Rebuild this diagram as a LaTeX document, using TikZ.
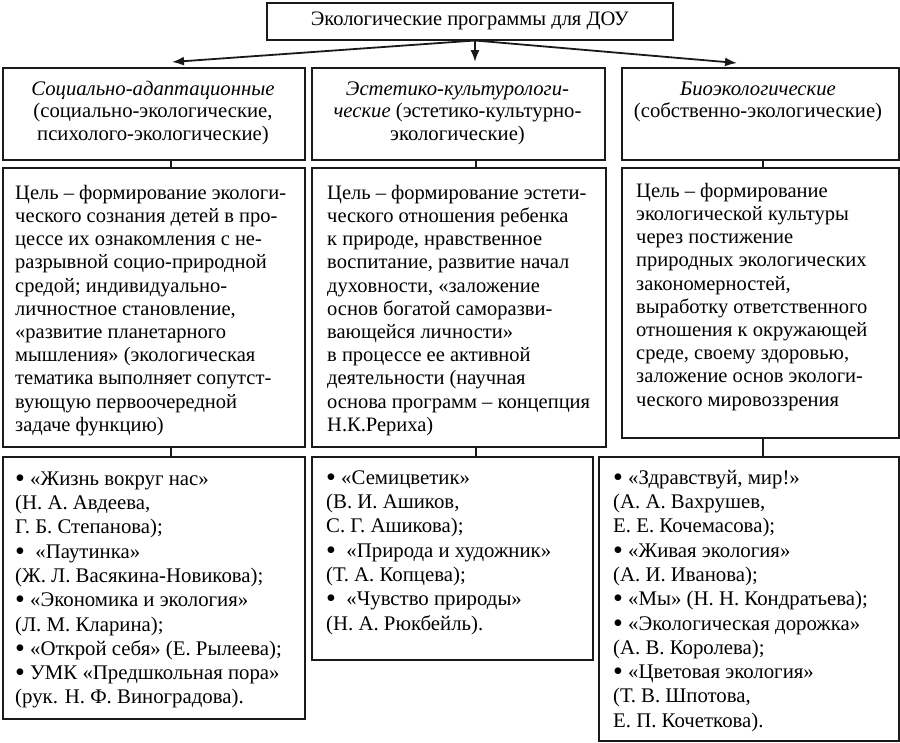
\documentclass[tikz,border=0pt]{standalone}
\usepackage{fontspec}
\setmainfont{Liberation Serif}
\usetikzlibrary{arrows.meta}
\definecolor{linec}{HTML}{1A1A1A}
\newcommand\mybul{\raisebox{-0.1em}{\scalebox{1.35}{•}}}
\begin{document}
\begin{tikzpicture}[x=1pt,y=-1pt,
  box/.style={draw=linec, line width=1.5pt, inner sep=0pt, anchor=north west},
  txtA/.style={inner sep=0pt, anchor=north west, align=left, font=\fontsize{20.5}{23.2}\selectfont},
  txtB/.style={inner sep=0pt, anchor=north west, align=left, font=\fontsize{20.8}{24.3}\selectfont},
  txtH/.style={inner sep=0pt, anchor=north, align=center, font=\fontsize{20.7}{22.5}\selectfont},
  arr/.style={line width=1.8pt, draw=linec, -{Latex[length=12pt,width=9pt]}},
  conn/.style={line width=1.2pt, draw=linec}]
\useasboundingbox (0,0) rectangle (900,742);

% boxes
\node[box, minimum width=406, minimum height=37, font=\fontsize{20.5}{23}\selectfont] (top) at (266,2) {Экологические программы для ДОУ};

\node[box, minimum width=302, minimum height=92] (L2) at (2,67) {};
\node[box, minimum width=293, minimum height=92] (M2) at (311,67) {};
\node[box, minimum width=277, minimum height=92] (R2) at (621,67) {};

\node[box, minimum width=302, minimum height=279] (L3) at (2,167) {};
\node[box, minimum width=294, minimum height=279] (M3) at (311,167) {};
\node[box, minimum width=277, minimum height=270] (R3) at (621,167) {};

\node[box, minimum width=302, minimum height=262] (L4) at (2,456) {};
\node[box, minimum width=281, minimum height=203] (M4) at (311,456) {};
\node[box, minimum width=300, minimum height=284] (R4) at (598,456) {};

% texts row 2
\node[txtH] (tL2) at (153,79.25) {\strut\textit{Социально-адаптационные}\\(социально-экологические,\\психолого-экологические)};
\node[txtH] (tM2) at (457.5,79.25) {\strut\textit{Эстетико-культурологи-}\\\textit{ческие} (эстетико-культурно-\\экологические)};
\node[txtH] (tR2) at (758,79.25) {\strut\textit{Биоэкологические}\\(собственно-экологические)};

% texts row 3
\node[txtA] (tL3) at (15,182.76) {\strut Цель – формирование экологи-\\ческого сознания детей в про-\\цессе их ознакомления с не-\\разрывной социо-природной\\средой; индивидуально-\\личностное становление,\\«развитие планетарного\\мышления» (экологическая\\тематика выполняет сопутст-\\вующую первоочередной\\задаче функцию)};
\node[txtA] (tM3) at (327,182.76) {\strut Цель – формирование эстети-\\ческого отношения ребенка\\к природе, нравственное\\воспитание, развитие начал\\духовности, «заложение\\основ богатой саморазви-\\вающейся личности»\\в процессе ее активной\\деятельности (научная\\основа программ – концепция\\Н.К.Рериха)};
\node[txtA] (tR3) at (636,180.76) {\strut Цель – формирование\\экологической культуры\\через постижение\\природных экологических\\закономерностей,\\выработку ответственного\\отношения к окружающей\\среде, своему здоровью,\\заложение основ экологи-\\ческого мировоззрения};

% texts row 4
\node[txtB] (tL4) at (15,468) {\strut \mybul{} «Жизнь вокруг нас»\\(Н. А. Авдеева,\\Г. Б. Степанова);\\\mybul\ \ «Паутинка»\\(Ж. Л. Васякина-Новикова);\\\mybul{} «Экономика и экология»\\(Л. М. Кларина);\\\mybul{} «Открой себя» (Е. Рылеева);\\\mybul{} УМК «Предшкольная пора»\\(рук. Н. Ф. Виноградова).};
\node[txtB] (tM4) at (326,467) {\strut \mybul{} «Семицветик»\\(В. И. Ашиков,\\С. Г. Ашикова);\\\mybul\ \ «Природа и художник»\\(Т. А. Копцева);\\\mybul\ \ «Чувство природы»\\(Н. А. Рюкбейль).};
\node[txtB] (tR4) at (613,467) {\strut \mybul{} «Здравствуй, мир!»\\(А. А. Вахрушев,\\Е. Е. Кочемасова);\\\mybul{} «Живая экология»\\(А. И. Иванова);\\\mybul{} «Мы» (Н. Н. Кондратьева);\\\mybul{} «Экологическая дорожка»\\(А. В. Королева);\\\mybul{} «Цветовая экология»\\(Т. В. Шпотова,\\Е. П. Кочеткова).};

% coordinates
\coordinate (a0) at (475,0);
\coordinate (tipL) at (172,62);
\coordinate (tipM) at (475,62);
\coordinate (tipR) at (737,63);
\coordinate (cL) at (171,0);
\coordinate (cM) at (476,0);
\coordinate (cR) at (763,0);

% arrows
\draw[arr] (top.south -| a0) -- (tipL);
\draw[arr] (top.south -| a0) -- (tipM);
\draw[arr] (top.south -| a0) -- (tipR);

% connectors
\draw[conn] (L2.south -| cL) -- (L3.north -| cL);
\draw[conn] (M2.south -| cM) -- (M3.north -| cM);
\draw[conn] (R2.south -| cR) -- (R3.north -| cR);
\draw[conn] (L3.south -| cL) -- (L4.north -| cL);
\draw[conn] (M3.south -| cM) -- (M4.north -| cM);
\draw[conn] (R3.south -| cR) -- (R4.north -| cR);
\end{tikzpicture}
\end{document}
